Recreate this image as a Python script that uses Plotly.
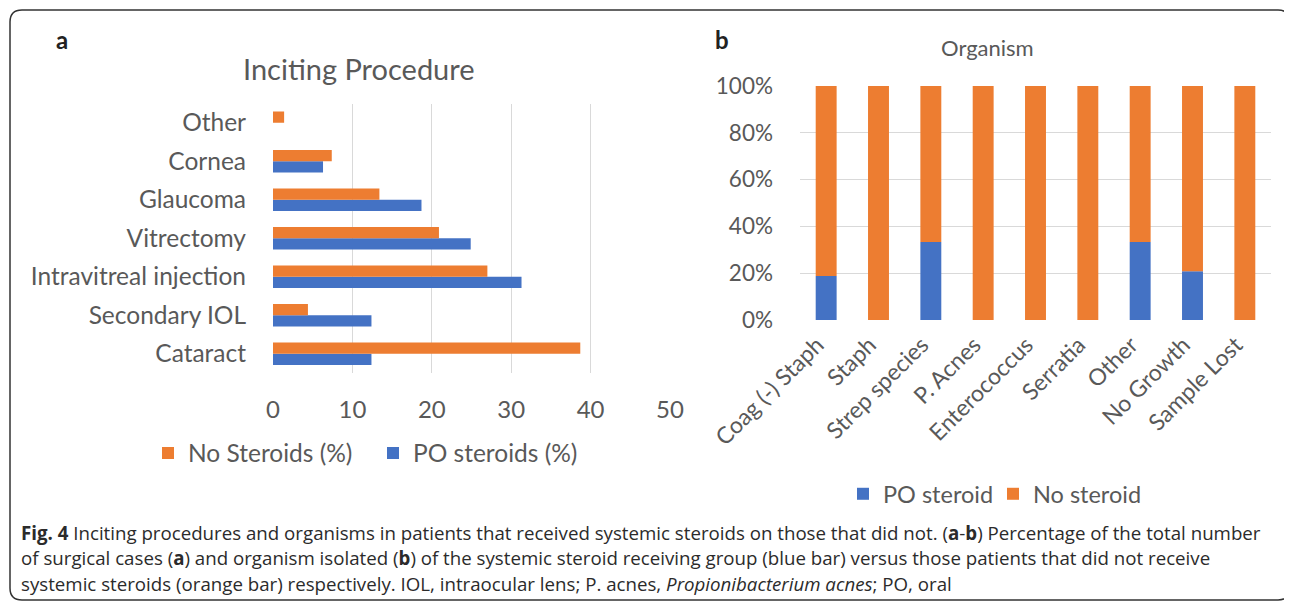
import plotly.graph_objects as go

W, H = 1292, 605
OFF = 8  # page body margin offsets the figure

# ---- data: panel a ----
procedures = ["Cataract", "Secondary IOL", "Intravitreal injection", "Vitrectomy",
              "Glaucoma", "Cornea", "Other"]
no_steroids_pct = [38.7, 4.4, 27.0, 20.9, 13.4, 7.4, 1.4]
po_steroids_pct = [12.4, 12.4, 31.3, 24.9, 18.7, 6.3, 0]
x_ticks_a = [0, 10, 20, 30, 40, 50]

# ---- data: panel b ----
organisms = ["Coag (-) Staph", "Staph", "Strep species", "P. Acnes", "Enterococcus",
             "Serratia", "Other", "No Growth", "Sample Lost"]
po_steroid_frac = [0.188, 0, 0.333, 0, 0, 0, 0.333, 0.208, 0]
no_steroid_frac = [1 - v for v in po_steroid_frac]
y_ticks_b = [0, 0.2, 0.4, 0.6, 0.8, 1.0]
y_tick_labels_b = ["0%", "20%", "40%", "60%", "80%", "100%"]

ORANGE = "#ED7D31"
BLUE = "#4472C4"
GRAY = "#595959"
GRID = "#D9D9D9"
FONT = "Lato"
CAP_FONT = "Open Sans, Noto Sans, sans-serif"


def px(x):
    return (x - OFF) / W


def py(y):
    return 1 - (y - OFF) / H


fig = go.Figure()

# panel a (blue first -> lower bar in each group)
fig.add_trace(go.Bar(y=procedures, x=po_steroids_pct, orientation="h", name="PO steroids (%)",
                     marker_color=BLUE, xaxis="x", yaxis="y", legend="legend2", showlegend=True))
fig.add_trace(go.Bar(y=procedures, x=no_steroids_pct, orientation="h", name="No Steroids (%)",
                     marker_color=ORANGE, xaxis="x", yaxis="y", legend="legend", showlegend=True))

# panel b (stacked via shared offsetgroup + base)
fig.add_trace(go.Bar(x=organisms, y=po_steroid_frac, name="PO steroid", marker_color=BLUE,
                     xaxis="x2", yaxis="y2", offsetgroup="b", width=0.4, legend="legend3",
                     showlegend=True))
fig.add_trace(go.Bar(x=organisms, y=no_steroid_frac, base=po_steroid_frac, name="No steroid",
                     marker_color=ORANGE, xaxis="x2", yaxis="y2", offsetgroup="b", width=0.4,
                     legend="legend4", showlegend=True))


def leg(xpx, ypx, size):
    return dict(orientation="h", x=px(xpx), y=py(ypx), xanchor="left", yanchor="middle",
                font=dict(family=FONT, size=size, color=GRAY), bgcolor="rgba(0,0,0,0)")


fig.update_layout(
    width=W, height=H,
    template="none",
    showlegend=True,
    margin=dict(l=0, r=0, t=0, b=0, autoexpand=False),
    paper_bgcolor="white", plot_bgcolor="white",
    barmode="group", bargap=0.42, bargroupgap=0,
    font=dict(family=FONT, color=GRAY),
    xaxis=dict(domain=[px(273), px(670)], anchor="y", range=[0, 50], tickvals=x_ticks_a,
               showgrid=True, gridcolor=GRID, gridwidth=1, zeroline=False, showline=False,
               ticks="", tickfont=dict(family=FONT, size=24, color=GRAY), ticklabelstandoff=20,
               automargin=False),
    yaxis=dict(domain=[py(373), py(103.5)], anchor="x", categoryorder="array",
               categoryarray=procedures, showgrid=False, zeroline=False, showline=False,
               ticks="", tickfont=dict(family=FONT, size=24.5, color=GRAY), ticklabelstandoff=26,
               automargin=False),
    xaxis2=dict(domain=[px(800), px(1271)], anchor="y2", range=[-0.5, 8.5],
                categoryorder="array", categoryarray=organisms, showgrid=False, zeroline=False,
                showline=False, ticks="", tickangle=-45,
                tickfont=dict(family=FONT, size=23, color=GRAY), ticklabelstandoff=6,
                ticklabelshift=-9, automargin=False),
    yaxis2=dict(domain=[py(320), py(86)], anchor="x2", range=[0, 1], tickvals=y_ticks_b,
                ticktext=y_tick_labels_b, showgrid=True, gridcolor=GRID, zeroline=False,
                showline=False, ticks="", tickfont=dict(family=FONT, size=22.5, color=GRAY),
                ticklabelstandoff=26, automargin=False),
    legend=leg(148, 453, 24.5),
    legend2=leg(373, 453, 24.5),
    legend3=leg(843, 494, 23.5),
    legend4=leg(993, 494, 23.5),
)

# border: rounded rectangle
x0, y0, x1, y1, r = 10, 10, 1290, 600, 12
path = (f"M{px(x0 + r)},{py(y0)} L{px(x1 - r)},{py(y0)} Q{px(x1)},{py(y0)} {px(x1)},{py(y0 + r)} "
        f"L{px(x1)},{py(y1 - r)} Q{px(x1)},{py(y1)} {px(x1 - r)},{py(y1)} "
        f"L{px(x0 + r)},{py(y1)} Q{px(x0)},{py(y1)} {px(x0)},{py(y1 - r)} "
        f"L{px(x0)},{py(y0 + r)} Q{px(x0)},{py(y0)} {px(x0 + r)},{py(y0)} Z")
fig.add_shape(type="path", path=path, xref="paper", yref="paper",
              line=dict(color="#333333", width=1.5), fillcolor="rgba(0,0,0,0)")

annots = [
    dict(text="<b>a</b>", x=px(54), y=py(40), size=24, color="#222222", xanchor="left"),
    dict(text="<b>b</b>", x=px(713), y=py(40), size=24, color="#222222", xanchor="left"),
    dict(text="Inciting Procedure", x=px(359), y=py(68), size=29, color=GRAY, xanchor="center"),
    dict(text="Organism", x=px(987), y=py(47), size=22, color=GRAY, xanchor="center"),
]
for a in annots:
    fig.add_annotation(text=a["text"], x=a["x"], y=a["y"], xref="paper", yref="paper",
                       xanchor=a["xanchor"], yanchor="middle", showarrow=False,
                       font=dict(family=FONT, size=a["size"], color=a["color"]))

caption_lines = [
    "<b>Fig. 4</b> Inciting procedures and organisms in patients that received systemic steroids on those that did not. "
    "(<b>a</b>-<b>b</b>) Percentage of the total number",
    "of surgical cases (<b>a</b>) and organism isolated (<b>b</b>) of the systemic steroid receiving group (blue bar) "
    "versus those patients that did not receive",
    "systemic steroids (orange bar) respectively. IOL, intraocular lens; P. acnes, <i>Propionibacterium acnes</i>; PO, oral",
]
for i, line in enumerate(caption_lines):
    fig.add_annotation(text=line, x=px(19), y=py(532 + 25.5 * i), xref="paper", yref="paper",
                       xanchor="left", yanchor="middle", showarrow=False, align="left",
                       font=dict(family=CAP_FONT, size=18.7, color="#2B2B2B"))

fig.write_html("out.html")
